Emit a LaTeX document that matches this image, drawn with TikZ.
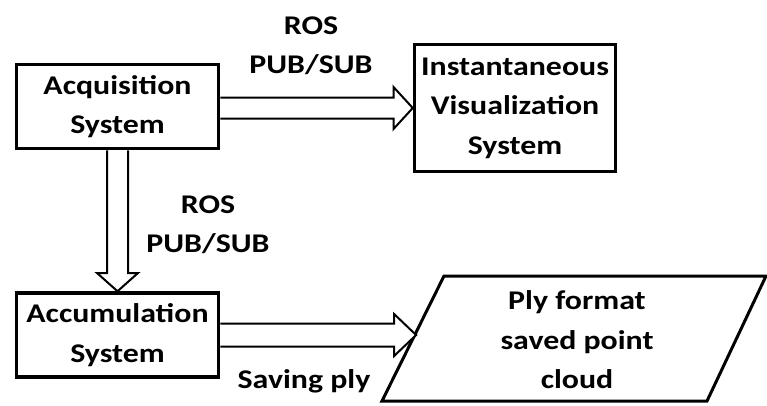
\documentclass[tikz,border=0pt]{standalone}
\usepackage{fontspec}
\setmainfont{Carlito}[FakeStretch=1.18]
\usetikzlibrary{calc}
\begin{document}
\begin{tikzpicture}[x=1pt,y=-1pt,
  txt/.style={font=\fontsize{27}{39.5}\selectfont\bfseries, align=center, inner sep=0pt, outer sep=0pt},
  sysbox/.style={txt, draw=black, line width=3.5pt, minimum width=202pt, minimum height=84pt},
  fatarrow/.style={draw=black, line width=2pt, line join=miter, fill=white},
  ply/.style={draw=black, line width=3pt, line join=miter}]
\useasboundingbox (0,0) rectangle (767,405);
\node[sysbox] (acq) at (117.5,106.5) {Acquisition\\System};
\node[sysbox, minimum width=201pt, minimum height=127pt] (inst) at (515,108) {Instantaneous\\Visualization\\System};
\node[sysbox] (acc) at (117.5,335) {Accumulation\\System};
\coordinate (p1) at (444,276);
\coordinate (p2) at (766,276);
\coordinate (p3) at (707,401);
\coordinate (p4) at (382,401);
\draw[ply] (p1) -- (p2) -- (p3) -- (p4) -- cycle;
\coordinate (plyL) at ($(p1)!0.45!(p4)$);
\node[txt] (plytxt) at (577,340) {Ply format\\saved point\\cloud};
\node[txt] (ros1) at (311,46) {ROS\\PUB/SUB};
\node[txt] (ros2) at (208,225) {ROS\\PUB/SUB};
\node[txt] (save) at (304,381) {Saving ply};
% upper arrow
\coordinate (a1s) at (acq.east |- inst.west);
\draw[fatarrow] ($(a1s)+(1.75,-10.5)$) -- ($(inst.west)+(-21,-10.5)$) -- ($(inst.west)+(-21,-21)$) -- ($(inst.west)+(-1.75,0)$) -- ($(inst.west)+(-21,21)$) -- ($(inst.west)+(-21,10.5)$) -- ($(a1s)+(1.75,10.5)$);
% vertical arrow
\draw[fatarrow] ($(acq.south)+(-10.5,1.75)$) -- ($(acc.north)+(-10.5,-20)$) -- ($(acc.north)+(-20.5,-20)$) -- ($(acc.north)+(0,-1.75)$) -- ($(acc.north)+(20.5,-20)$) -- ($(acc.north)+(10.5,-20)$) -- ($(acq.south)+(10.5,1.75)$);
% lower arrow
\coordinate (a3e) at (acc.east -| plyL);
\draw[fatarrow] ($(acc.east)+(1.75,-11.5)$) -- ($(a3e)+(-22,-11.5)$) -- ($(a3e)+(-22,-21)$) -- (a3e) -- ($(a3e)+(-22,21)$) -- ($(a3e)+(-22,11.5)$) -- ($(acc.east)+(1.75,11.5)$);
\end{tikzpicture}
\end{document}
